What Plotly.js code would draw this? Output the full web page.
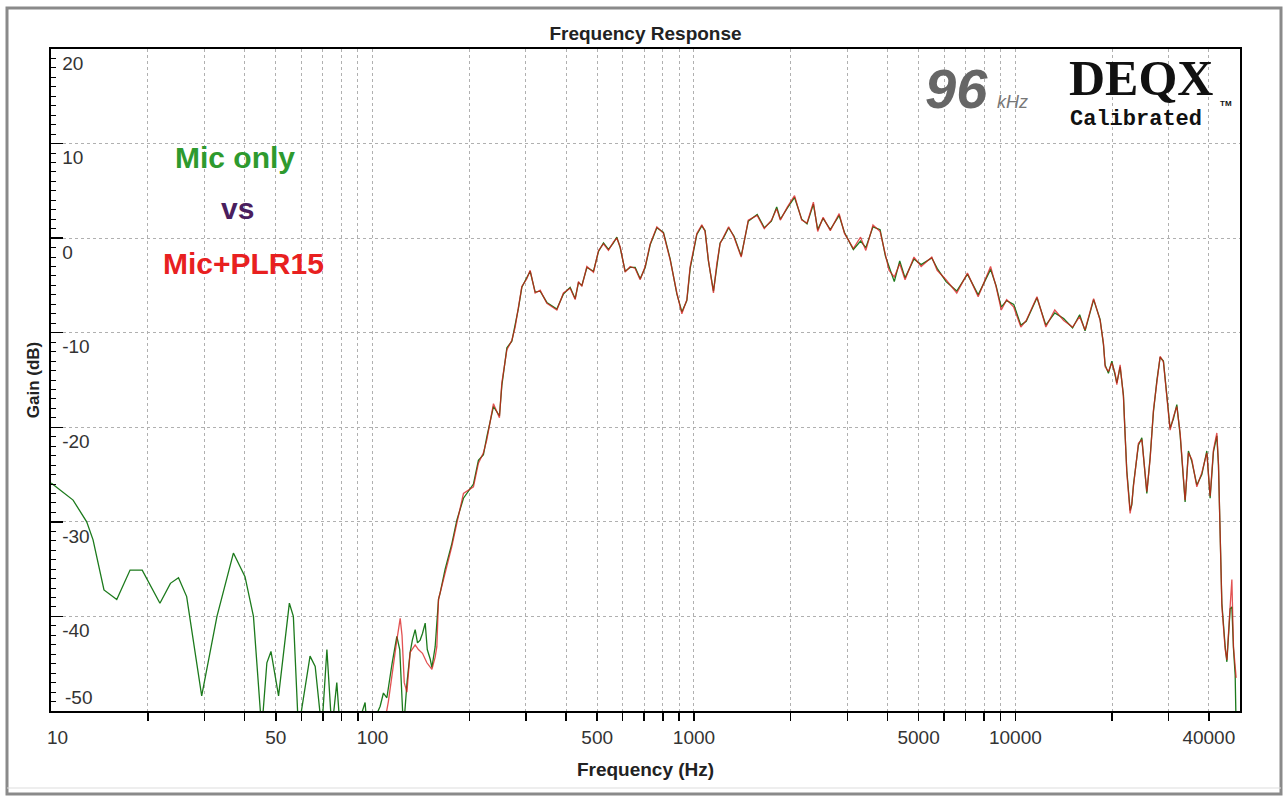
<!DOCTYPE html>
<html>
<head>
<meta charset="utf-8">
<script src="https://cdn.plot.ly/plotly-3.0.1.min.js"></script>
<style>
  html, body { margin: 0; padding: 0; background: #ffffff; }
  #chart { width: 1285px; height: 802px; }
</style>
</head>
<body>
<div id="chart"></div>
<script>
// ---------- DATA ----------
// Low-frequency part, only the green "Mic only" trace is visible
const lowFreq = [10, 11.7, 12.9, 13.5, 14.6, 16.0, 17.6, 19.2, 21.8, 23.5, 24.9, 26.4, 29.4, 32.8, 36.9, 40.1, 42.6, 45.2, 46.9, 48.3, 51.0, 55.1, 56.7, 58.8, 63.9, 66.3, 69.5, 72.1, 74.7, 77.4, 79.3, 84, 88, 91, 94.8, 96.2, 101, 105.6, 108.1, 110.8, 115, 119.0, 121.5, 124.8, 128, 130.9, 133, 135.7, 138, 140.6, 143, 145.8, 148, 151.1, 153, 156.6, 160.4, 162.3];
const lowGreenDb = [-25.9, -27.7, -30.0, -31.9, -37.2, -38.2, -35.1, -35.1, -38.6, -36.5, -35.9, -37.9, -48.4, -40.0, -33.3, -35.8, -40.0, -52, -44.9, -43.7, -48.4, -38.6, -40.0, -52, -44.2, -45.3, -52, -43.5, -52, -47.0, -52, -51, -51, -51, -49.1, -52, -51, -49.5, -48.1, -48.6, -45, -42.1, -43.5, -52, -47, -43.8, -42.5, -41.4, -42.8, -42.5, -41.8, -40.7, -43.5, -44.5, -45.4, -43.2, -38.2, -37.5];

// Red "Mic+PLR15" trace, low part where it separates from the green one
const lowRedFreq = [100, 108, 112, 115, 119, 121.9, 123.5, 125.5, 127.9, 130.9, 135.7, 138.9, 143, 147.6, 151.1, 153, 156.6, 158.5, 160.4, 162.3];
const lowRedDb = [-52, -52, -49, -46, -42.5, -40.2, -42, -47, -48.0, -43.8, -43.0, -43.5, -43.9, -44.9, -45.3, -45.6, -44.3, -43.2, -38.2, -37.5];

// Main band, frequencies shared by both traces
const mainFreq = [168.2, 176.5, 183.0, 191.8, 206.0, 213.5, 221.3, 226.8, 237.8, 248.2, 252.5, 261.8, 271.3, 277.8, 284.4, 291.4, 302.0, 309.3, 320.6, 332.3, 348.6, 374.5, 392.6, 411.9, 427.0, 437.2, 448.0, 464.4, 486.9, 504.7, 523.0, 542.0, 561.8, 575.5, 589.4, 610.9, 633.2, 656.3, 680.2, 705.1, 730.9, 766.7, 803.7, 843.3, 884.7, 917.1, 950.4, 973.2, 1021, 1058, 1083, 1109, 1150, 1178, 1206, 1234, 1282, 1333, 1403, 1476, 1573, 1655, 1742, 1809, 1857, 1954, 2056, 2164, 2248, 2353, 2427, 2523, 2656, 2830, 2940, 3133, 3299, 3426, 3606, 3795, 3942, 4045, 4201, 4368, 4538, 4836, 5092, 5495, 5711, 6087, 6573, 7096, 7662, 8374, 8706, 9041, 9397, 9886, 10402, 10812, 11675, 12443, 13264, 14138, 15067, 15853, 16478, 17521, 18355, 18795, 19025, 19481, 19962, 20438, 20689, 21185, 21693, 21955, 22224, 22757, 23036, 23302, 24150, 24748, 25341, 25652, 26262, 26892, 27555, 28213, 28889, 29603, 30307, 31034, 31800, 32562, 33339, 33747, 34556, 35410, 36698, 38038, 39425, 40371, 41340, 42359, 42853, 43378, 43910, 44966, 45517, 46599, 47171, 47717, 48302, 48650];

const mainRedDb = [-35.4, -32.6, -30.1, -27.0, -26.3, -23.8, -22.7, -21.3, -17.5, -19.0, -15.3, -11.8, -10.8, -9.4, -7.3, -5.1, -4.3, -3.4, -5.8, -5.5, -6.9, -7.6, -5.8, -5.3, -6.5, -4.6, -5.1, -3.0, -3.6, -1.3, -0.6, -1.3, -0.4, 0, -0.9, -3.6, -3.0, -3.2, -4.4, -3.0, -0.6, 1.2, 0.5, -2.3, -5.8, -8.0, -6.5, -3.0, 0.5, 1.4, 0.7, -2.3, -5.8, -2.7, -0.6, 0.1, 1.2, 0.1, -2.0, 1.9, 2.4, 1.0, 1.9, 3.1, 1.9, 3.3, 4.5, 1.9, 1.6, 3.8, 0.7, 2.2, 0.8, 2.6, 0.5, -1.1, 0.1, -1.3, 1.4, 0.7, -1.6, -3.4, -4.1, -2.7, -4.4, -2.0, -3.0, -2.0, -3.4, -4.4, -5.8, -3.7, -6.2, -3.0, -5.1, -7.6, -6.5, -7.3, -9.4, -8.7, -6.2, -9.4, -7.6, -8.7, -9.4, -8.3, -9.7, -6.4, -8.7, -11.1, -13.6, -14.1, -13.2, -14.3, -15.5, -13.4, -16.8, -20.6, -24.8, -29.1, -28.0, -26.3, -21.7, -21.3, -24.8, -26.8, -23.4, -18.2, -15.3, -12.5, -13.1, -16.4, -20.3, -18.9, -17.8, -20.6, -25.9, -27.7, -22.7, -23.4, -26.3, -24.8, -22.7, -27.3, -22.4, -20.6, -23.8, -31.2, -38.9, -43.5, -44.6, -38.9, -36.1, -43.2, -46.0, -46.5];

const mainGreenDb = [-35.0, -32.3, -29.8, -27.5, -26.0, -23.5, -22.9, -21.0, -17.8, -18.8, -15.6, -11.6, -10.9, -9.2, -7.4, -5.2, -4.2, -3.5, -5.7, -5.6, -6.8, -7.5, -5.9, -5.2, -6.4, -4.7, -5.0, -3.1, -3.5, -1.4, -0.5, -1.2, -0.5, 0.1, -1.0, -3.5, -3.1, -3.1, -4.3, -3.1, -0.7, 1.1, 0.6, -2.2, -5.9, -7.8, -6.6, -3.2, 0.4, 1.3, 0.8, -2.4, -5.6, -2.9, -0.5, 0.0, 1.1, 0.2, -1.9, 1.8, 2.5, 1.1, 1.8, 3.3, 2.0, 3.2, 4.3, 2.0, 1.5, 3.6, 0.9, 2.1, 0.9, 2.4, 0.6, -1.2, -0.3, -1.0, 1.2, 0.9, -1.9, -3.0, -4.6, -2.4, -4.2, -2.2, -2.8, -2.1, -3.2, -4.6, -5.6, -3.8, -6.0, -3.3, -5.0, -7.3, -6.6, -7.0, -9.2, -8.8, -6.3, -9.2, -7.9, -8.5, -9.5, -8.1, -9.8, -6.5, -8.6, -11.2, -13.4, -14.3, -13.0, -14.5, -15.3, -13.6, -16.6, -20.8, -24.6, -28.8, -28.2, -26.1, -21.9, -21.1, -24.6, -27.0, -23.2, -18.4, -15.1, -12.6, -13.0, -16.6, -20.1, -19.1, -17.6, -20.8, -25.7, -27.9, -22.5, -23.6, -26.1, -25.0, -22.5, -27.5, -22.6, -20.9, -24.0, -31.0, -38.6, -43.2, -44.8, -39.2, -39.0, -43.4, -46.2, -52];

// Axis ticks
const xTickVals = [10, 20, 30, 40, 50, 60, 70, 80, 90, 100, 200, 300, 400, 500, 600, 700, 800, 900, 1000, 2000, 3000, 4000, 5000, 6000, 7000, 8000, 9000, 10000, 20000, 30000, 40000];
const xTickText = ['', '', '', '', '50', '', '', '', '', '100', '', '', '', '500', '', '', '', '', '1000', '', '', '', '5000', '', '', '', '', '10000', '', '', '40000'];
const yTickVals = [-50, -40, -30, -20, -10, 0, 10, 20];
const yTickText = ['', '-40', '-30', '-20', '-10', '0', '10', '20'];

// ---------- CHART ----------
const greenTrace = {
  x: lowFreq.concat(mainFreq),
  y: lowGreenDb.concat(mainGreenDb),
  type: 'scatter', mode: 'lines', name: 'Mic only',
  line: { color: '#1c7a1c', width: 1.3, shape: 'linear' },
  hoverinfo: 'x+y'
};
const redTrace = {
  x: lowRedFreq.concat(mainFreq),
  y: lowRedDb.concat(mainRedDb),
  type: 'scatter', mode: 'lines', name: 'Mic+PLR15',
  line: { color: '#d81818', width: 1.3 },
  opacity: 0.75,
  hoverinfo: 'x+y'
};

const tickFont = { family: 'Liberation Sans, Arial, sans-serif', size: 19, color: '#333333' };
const FONT = 'Liberation Sans, Arial, sans-serif';

// helpers for paper coords from pixel positions of the 1285x802 page
const L = 51, R = 1240, T = 49, B = 711;
const px = v => (v - L) / (R - L);
const py = v => (B - v) / (B - T);

const layout = {
  width: 1285, height: 802,
  margin: { l: L, r: 1285 - R, t: T, b: 802 - B },
  paper_bgcolor: '#ffffff', plot_bgcolor: '#ffffff',
  showlegend: false,
  title: {
    text: '<b>Frequency Response</b>',
    font: { family: FONT, size: 19, color: '#222222' },
    x: 0.5, xanchor: 'center', xref: 'paper',
    y: 1 - 33 / 802, yanchor: 'middle', yref: 'container'
  },
  xaxis: {
    type: 'log', range: [0.9995, 4.699],
    tickmode: 'array', tickvals: xTickVals, ticktext: xTickText,
    ticks: 'outside', ticklen: 8, tickwidth: 1.5, tickcolor: '#000',
    showgrid: true, gridcolor: '#b0b0b0', griddash: 'dot', gridwidth: 1,
    showline: true, mirror: true, linecolor: '#000', linewidth: 2,
    tickfont: tickFont, zeroline: false,
    title: { text: '<b>Frequency (Hz)</b>', font: { family: FONT, size: 19, color: '#222222' }, standoff: 16 }
  },
  yaxis: {
    range: [-50, 20],
    tickmode: 'array', tickvals: yTickVals, ticktext: yTickText,
    ticks: 'inside', ticklen: 12, tickwidth: 1.5, tickcolor: '#000',
    ticklabelposition: 'inside', ticklabelshift: 14, ticklabelstandoff: 0,
    minor: { tickmode: 'linear', tick0: 0, dtick: 1, ticks: 'inside', ticklen: 5, tickcolor: '#000', tickwidth: 1, showgrid: false },
    showgrid: true, gridcolor: '#b0b0b0', griddash: 'dot', gridwidth: 1,
    showline: true, mirror: true, linecolor: '#000', linewidth: 2,
    tickfont: tickFont, zeroline: false,
    title: { text: '<b>Gain (dB)</b>', font: { family: FONT, size: 17, color: '#222222' }, standoff: 18 }
  },
  annotations: [
    { xref: 'paper', yref: 'paper', x: px(235), y: py(157), text: '<b>Mic only</b>', showarrow: false,
      font: { family: FONT, size: 30, color: '#2e9a2e' }, xanchor: 'center', yanchor: 'middle' },
    { xref: 'paper', yref: 'paper', x: px(237), y: py(208), text: '<b>vs</b>', showarrow: false,
      font: { family: FONT, size: 30, color: '#4a1e5e' }, xanchor: 'center', yanchor: 'middle' },
    { xref: 'paper', yref: 'paper', x: px(243), y: py(263), text: '<b>Mic+PLR15</b>', showarrow: false,
      font: { family: FONT, size: 30, color: '#e82020' }, xanchor: 'center', yanchor: 'middle' },
    { xref: 'paper', yref: 'paper', x: px(63), y: py(697), text: '-50', showarrow: false,
      font: tickFont, xanchor: 'left', yanchor: 'middle' },
    { xref: 'paper', yref: 'paper', x: px(57), y: py(737), text: '10', showarrow: false,
      font: tickFont, xanchor: 'center', yanchor: 'middle' },
    { xref: 'paper', yref: 'paper', x: px(956), y: py(88), text: '<b><i>96</i></b>', showarrow: false,
      font: { family: FONT, size: 56, color: '#666666' }, xanchor: 'center', yanchor: 'middle' },
    { xref: 'paper', yref: 'paper', x: px(1012), y: py(102), text: '<i>kHz</i>', showarrow: false,
      font: { family: FONT, size: 18, color: '#777777' }, xanchor: 'center', yanchor: 'middle' },
    { xref: 'paper', yref: 'paper', x: px(1141), y: py(78), text: '<b>DEQX</b>', showarrow: false,
      font: { family: 'Liberation Serif, DejaVu Serif, serif', size: 50, color: '#111111' }, xanchor: 'center', yanchor: 'middle' },
    { xref: 'paper', yref: 'paper', x: px(1136), y: py(119), text: '<b>Calibrated</b>', showarrow: false,
      font: { family: 'Liberation Mono, DejaVu Sans Mono, monospace', size: 22, color: '#111111' }, xanchor: 'center', yanchor: 'middle' },
    { xref: 'paper', yref: 'paper', x: px(1226), y: py(103), text: '<b>TM</b>', showarrow: false,
      font: { family: FONT, size: 8, color: '#111111' }, xanchor: 'center', yanchor: 'middle' }
  ],
  shapes: [
    { type: 'rect', xref: 'paper', yref: 'paper', x0: px(7), x1: px(1281), y0: py(794), y1: py(8),
      line: { color: '#8a8a8a', width: 3 }, fillcolor: 'rgba(0,0,0,0)', layer: 'below' },
    { type: 'line', xref: 'paper', yref: 'paper', x0: px(7), x1: px(1281), y0: py(788), y1: py(788),
      line: { color: '#dddddd', width: 1 } }
  ]
};

Plotly.newPlot('chart', [greenTrace, redTrace], layout, { displayModeBar: false, staticPlot: true });
</script>
</body>
</html>
